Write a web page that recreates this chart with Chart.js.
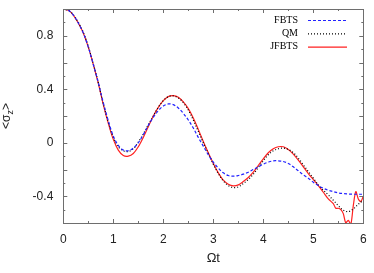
<!DOCTYPE html>
<html>
<head>
<meta charset="utf-8">
<script src="https://cdn.jsdelivr.net/npm/chart.js@4/dist/chart.umd.min.js"></script>
<style>
  body { margin: 0; background: #fff; }
  #wrap { width: 374px; height: 273px; }
</style>
</head>
<body>
<div id="wrap"><canvas id="chart" width="374" height="273"></canvas></div>
<script>
// time grid (Omega t) shared by FBTS and QM
const tCoarse = [0, 0.1, 0.2, 0.3, 0.4, 0.5, 0.6, 0.7, 0.8, 0.9, 1.0, 1.1, 1.2, 1.3, 1.4, 1.5, 1.6, 1.7, 1.8, 1.9,
  2.0, 2.1, 2.2, 2.3, 2.4, 2.5, 2.6, 2.7, 2.8, 2.9, 3.0, 3.1, 3.2, 3.3, 3.4, 3.5, 3.6, 3.7, 3.8, 3.9,
  4.0, 4.1, 4.2, 4.3, 4.4, 4.5, 4.6, 4.7, 4.8, 4.9, 5.0, 5.1, 5.2, 5.3, 5.4, 5.5, 5.6, 5.7, 5.8, 5.9, 6.0];

const fbts = [1.0, 0.99, 0.955, 0.895, 0.82, 0.715, 0.585, 0.45, 0.30, 0.165, 0.05, -0.02, -0.055, -0.06, -0.04, 0.0, 0.06, 0.13, 0.19, 0.24,
  0.275, 0.29, 0.285, 0.26, 0.22, 0.17, 0.11, 0.04, -0.025, -0.09, -0.145, -0.19, -0.225, -0.245, -0.25, -0.245, -0.235, -0.22, -0.20, -0.18,
  -0.16, -0.145, -0.135, -0.135, -0.14, -0.155, -0.18, -0.21, -0.24, -0.265, -0.295, -0.32, -0.34, -0.355, -0.365, -0.375, -0.38, -0.383, -0.385, -0.385, -0.385];

const qm = [1.0, 0.99, 0.958, 0.90, 0.825, 0.72, 0.59, 0.45, 0.29, 0.155, 0.04, -0.03, -0.06, -0.065, -0.045, 0.005, 0.065, 0.135, 0.20, 0.265,
  0.315, 0.345, 0.35, 0.335, 0.30, 0.245, 0.17, 0.085, 0.0, -0.08, -0.16, -0.23, -0.285, -0.32, -0.335, -0.33, -0.305, -0.275, -0.235, -0.185,
  -0.135, -0.09, -0.06, -0.045, -0.04, -0.05, -0.075, -0.115, -0.165, -0.215, -0.265, -0.315, -0.355, -0.39, -0.43, -0.47, -0.505, -0.515, -0.495, -0.46, -0.43];

// JFBTS has a finer grid near the end where it gets noisy
const tFine = [0, 0.1, 0.2, 0.3, 0.4, 0.5, 0.6, 0.7, 0.8, 0.9, 1.0, 1.1, 1.2, 1.3, 1.4, 1.5, 1.6, 1.7, 1.8, 1.9,
  2.0, 2.1, 2.2, 2.3, 2.4, 2.5, 2.6, 2.7, 2.8, 2.9, 3.0, 3.1, 3.2, 3.3, 3.4, 3.5, 3.6, 3.7, 3.8, 3.9,
  4.0, 4.1, 4.2, 4.3, 4.4, 4.5, 4.6, 4.7, 4.8, 4.9, 5.0, 5.1, 5.2, 5.3, 5.4, 5.45, 5.5, 5.55, 5.6, 5.65,
  5.7, 5.75, 5.8, 5.85, 5.9, 5.95, 6.0];

const jfbts = [1.0, 0.99, 0.955, 0.895, 0.82, 0.715, 0.585, 0.445, 0.285, 0.145, 0.025, -0.055, -0.095, -0.10, -0.08, -0.03, 0.04, 0.12, 0.20, 0.265,
  0.315, 0.345, 0.352, 0.34, 0.305, 0.255, 0.185, 0.10, 0.01, -0.075, -0.155, -0.225, -0.28, -0.31, -0.322, -0.315, -0.29, -0.26, -0.22, -0.17,
  -0.12, -0.075, -0.045, -0.03, -0.03, -0.05, -0.085, -0.13, -0.18, -0.23, -0.275, -0.32, -0.37, -0.42, -0.455, -0.49, -0.49, -0.50, -0.53, -0.60,
  -0.58, -0.61, -0.47, -0.365, -0.42, -0.44, -0.40];

const seriesNames = ['FBTS', 'QM', 'JFBTS'];

function toPoints(ts, vs) {
    return ts.map((t, i) => ({ x: t, y: vs[i] }));
}

// frame and inward ticks on all four sides
const framePlugin = {
    id: 'frame',
    afterDraw(chart) {
        const { ctx, chartArea: a, scales } = chart;
        ctx.save();
        ctx.strokeStyle = '#6e6e6e';
        ctx.lineWidth = 1;
        ctx.strokeRect(Math.round(a.left) + 0.5, Math.round(a.top) + 0.5,
            Math.round(a.right - a.left), Math.round(a.bottom - a.top));
        ctx.beginPath();
        scales.x.ticks.forEach(tk => {
            const px = Math.round(scales.x.getPixelForValue(tk.value)) + 0.5;
            const len = Number.isInteger(tk.value) ? 4 : 2;
            ctx.moveTo(px, a.bottom); ctx.lineTo(px, a.bottom - len);
            ctx.moveTo(px, a.top); ctx.lineTo(px, a.top + len);
        });
        scales.y.ticks.forEach(tk => {
            const py = Math.round(scales.y.getPixelForValue(tk.value)) + 0.5;
            const len = Math.round(tk.value * 10) % 2 === 0 ? 4 : 2;
            ctx.moveTo(a.left, py); ctx.lineTo(a.left + len, py);
            ctx.moveTo(a.right, py); ctx.lineTo(a.right - len, py);
        });
        ctx.stroke();

        // axis titles
        ctx.fillStyle = '#222';
        ctx.font = '13px "Liberation Sans", Arial, sans-serif';
        ctx.textAlign = 'center';
        ctx.textBaseline = 'middle';
        ctx.fillText('\u03A9t', (a.left + a.right) / 2, 258);

        ctx.save();
        ctx.translate(8, (a.top + a.bottom) / 2);
        ctx.rotate(-Math.PI / 2);
        ctx.font = '12px "Liberation Sans", Arial, sans-serif';
        ctx.textAlign = 'left';
        const p1 = '<\u03C3', p2 = 'z', p3 = '>';
        const w1 = ctx.measureText(p1).width;
        ctx.font = '9px "Liberation Sans", Arial, sans-serif';
        const w2 = ctx.measureText(p2).width;
        ctx.font = '12px "Liberation Sans", Arial, sans-serif';
        const w3 = ctx.measureText(p3).width;
        let x0 = -(w1 + w2 + w3) / 2;
        ctx.fillText(p1, x0, -1);
        ctx.font = '9px "Liberation Sans", Arial, sans-serif';
        ctx.fillText(p2, x0 + w1, 3);
        ctx.font = '12px "Liberation Sans", Arial, sans-serif';
        ctx.fillText(p3, x0 + w1 + w2, -1);
        ctx.restore();

        // legend, text left of the line sample
        ctx.font = '10px "Liberation Serif", "Times New Roman", serif';
        ctx.textAlign = 'right';
        ctx.fillStyle = '#000';
        chart.data.datasets.forEach((ds, i) => {
            const ly = 20 + i * 13.3;
            ctx.fillText(ds.label, 298, ly);
            ctx.beginPath();
            ctx.strokeStyle = ds.borderColor;
            ctx.lineWidth = ds.borderWidth;
            ctx.setLineDash(ds.borderDash || []);
            ctx.moveTo(308, ly + 0.5);
            ctx.lineTo(347, ly + 0.5);
            ctx.stroke();
        });
        ctx.restore();
    }
};

const ctx = document.getElementById('chart').getContext('2d');
new Chart(ctx, {
    type: 'line',
    data: {
        datasets: [{
            label: seriesNames[0],
            data: toPoints(tCoarse, fbts),
            borderColor: '#2222ff',
            borderWidth: 1.2,
            borderDash: [3, 2],
            pointRadius: 0,
            tension: 0.35
        }, {
            label: seriesNames[1],
            data: toPoints(tCoarse, qm),
            borderColor: '#000000',
            borderWidth: 1.2,
            borderDash: [1, 2],
            pointRadius: 0,
            tension: 0.35
        }, {
            label: seriesNames[2],
            data: toPoints(tFine, jfbts),
            borderColor: '#ff2020',
            borderWidth: 1.2,
            pointRadius: 0,
            tension: 0.3
        }]
    },
    options: {
        responsive: false,
        animation: false,
        events: [],
        layout: { padding: { top: 9, right: 10.7, left: 0, bottom: 0 } },
        plugins: {
            legend: { display: false },
            tooltip: { enabled: false }
        },
        scales: {
            x: {
                type: 'linear',
                min: 0,
                max: 6,
                grid: { display: false, drawTicks: false },
                border: { display: false },
                ticks: {
                    stepSize: 0.5,
                    padding: 9,
                    maxRotation: 0,
                    autoSkip: false,
                    color: '#222',
                    font: { family: '"Liberation Sans", Arial, sans-serif', size: 12 },
                    callback: v => Number.isInteger(v) ? String(v) : ''
                },
                afterFit(scale) {
                    scale.height = 50;
                    scale.paddingLeft = 0;
                    scale.paddingRight = 0;
                }
            },
            y: {
                min: -0.6,
                max: 1.0,
                grid: { display: false, drawTicks: false },
                border: { display: false },
                ticks: {
                    stepSize: 0.1,
                    padding: 10,
                    autoSkip: false,
                    color: '#222',
                    font: { family: '"Liberation Sans", Arial, sans-serif', size: 12 },
                    callback: v => {
                        const k = Math.round(v * 10);
                        if (k % 4 !== 0) return '';
                        return k === 0 ? '0' : (k / 10).toFixed(1);
                    }
                },
                afterFit(scale) {
                    scale.width = 63.3;
                    scale.paddingTop = 0;
                    scale.paddingBottom = 0;
                }
            }
        }
    },
    plugins: [framePlugin]
});
</script>
</body>
</html>
